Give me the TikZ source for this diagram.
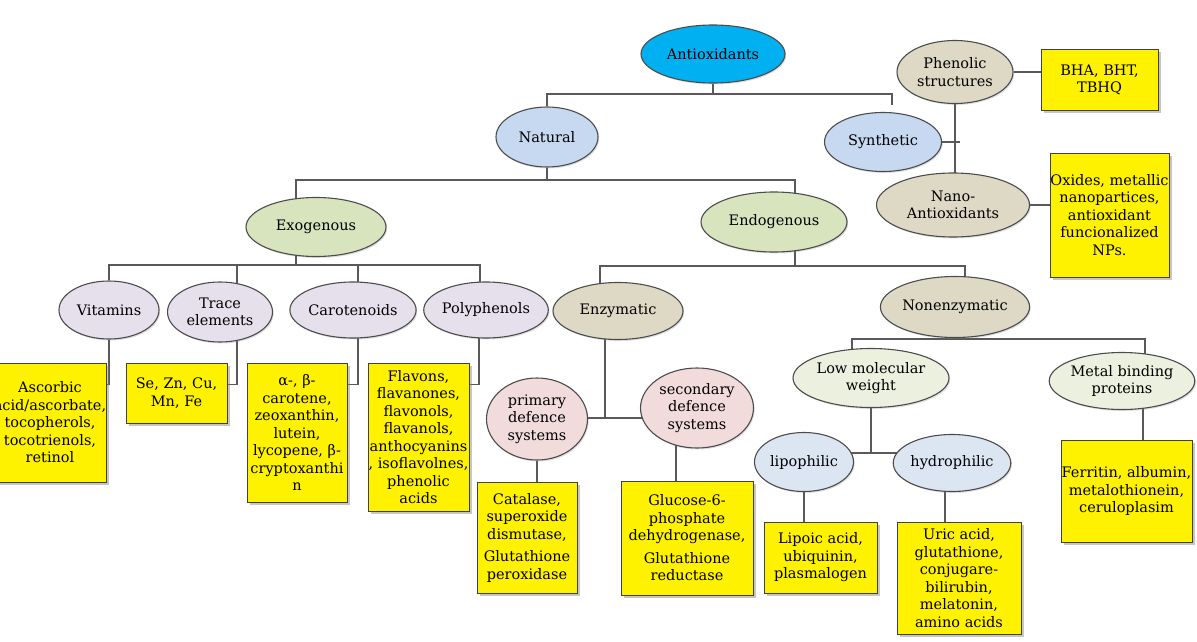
\documentclass[tikz,border=0pt]{standalone}
\usepackage{fontspec}
\setmainfont{DejaVu Serif}
\usepackage{xcolor}
\usepackage{tikz}
\usetikzlibrary{shapes.geometric,calc,backgrounds,shadows}

\definecolor{rootblue}{HTML}{00B0F0}
\definecolor{natblue}{HTML}{C6D9F1}
\definecolor{exogreen}{HTML}{D7E4BD}
\definecolor{sublilac}{HTML}{E5E0EC}
\definecolor{enztan}{HTML}{DDD9C4}
\definecolor{defpink}{HTML}{F2DCDB}
\definecolor{molgreen}{HTML}{EBF1DE}
\definecolor{philblue}{HTML}{DCE6F2}
\newcommand{\ovl}[1]{\makebox[80pt]{#1}}

\begin{document}
\begin{tikzpicture}[
  x=1pt, y=-1pt,
  sz/.style 2 args={minimum width=#1pt, minimum height=#2pt},
  oval/.style={ellipse, draw=black!70, line width=1.1pt, inner sep=0pt, align=center,
               font=\fontsize{14.5}{17.5}\selectfont,
               drop shadow={shadow xshift=1.2pt, shadow yshift=-1.5pt, opacity=0.25}},
  rootov/.style={oval, fill=rootblue},
  natov/.style={oval, fill=natblue},
  exoov/.style={oval, fill=exogreen},
  subov/.style={oval, fill=sublilac},
  enzov/.style={oval, fill=enztan},
  defov/.style={oval, fill=defpink},
  molov/.style={oval, fill=molgreen},
  philov/.style={oval, fill=philblue},
  lst/.style={draw=black!75, line width=1pt, fill=yellow, inner sep=2pt, align=center,
              font=\fontsize{14.5}{17.5}\selectfont,
              drop shadow={shadow xshift=2.5pt, shadow yshift=-2.5pt, opacity=0.45}},
  conn/.style={draw=black!65, line width=1.2pt}
]
  \useasboundingbox (0,0) rectangle (1197,642);

  % classes
  \node[rootov, sz={144}{58}] (anti) at (713,54) {Antioxidants};
  \node[natov, sz={102}{60}] (nat) at (547,137) {Natural};
  \node[natov, sz={117}{59}] (syn) at (883,142) {Synthetic};
  \node[exoov, sz={140}{59}] (exo) at (316,227) {Exogenous};
  \node[exoov, sz={146}{60}] (endo) at (774,222) {Endogenous};
  \node[subov, sz={100}{58}] (vit) at (109,310) {Vitamins};
  \node[subov, sz={105}{60}] (trace) at (220,312) {Trace\\elements};
  \node[subov, sz={123}{56}] (caro) at (353,310) {Carotenoids};
  \node[subov, sz={123}{56}] (polyph) at (486,310) {Polyphenols};
  \node[enzov, sz={130}{57}] (enz) at (618,311) {Enzymatic};
  \node[enzov, sz={146}{61}] (nonenz) at (955,307) {Nonenzymatic};
  \node[defov, sz={101}{82}] (prim) at (537,419) {primary\\defence\\systems};
  \node[defov, sz={113}{80}] (sec) at (697,408) {secondary\\defence\\systems};
  \node[molov, sz={156}{59}] (lmw) at (871,378) {Low molecular\\weight};
  \node[molov, sz={145}{57}] (metal) at (1122,381) {Metal binding\\proteins};
  \node[philov, sz={99}{59}] (lipo) at (804,462) {lipophilic};
  \node[philov, sz={116}{57}] (hydro) at (952,463) {hydrophilic};
  \node[enzov, sz={116}{63}] (phen) at (955,72) {Phenolic\\structures};
  \node[enzov, sz={153}{64}] (nano) at (953,205) {Nano-\\Antioxidants};

  % examples
  \node[lst, sz={112}{119}] (asc) at (50,422.5) {Ascorbic\\\ovl{acid/ascorbate,}\\tocopherols,\\tocotrienols,\\retinol};
  \node[lst, sz={101}{60}] (se) at (176.5,393) {Se, Zn, Cu,\\Mn, Fe};
  \node[lst, sz={100}{139}] (car) at (297,432.5) {α-, β-\\carotene,\\zeoxanthin,\\lutein,\\\ovl{lycopene, β-}\\\ovl{cryptoxanthi}\\n};
  \node[lst, sz={101}{148}] (pol) at (418.5,437) {Flavons,\\flavanones,\\flavonols,\\flavanols,\\\ovl{anthocyanins}\\\ovl{, isoflavolnes,}\\phenolic\\acids};
  \node[lst, sz={100}{111}] (cat) at (527,537.5) {Catalase,\\superoxide\\dismutase,\\[5pt]Glutathione\\peroxidase};
  \node[lst, sz={132}{114}] (glu) at (687,538) {Glucose-6-\\phosphate\\\ovl{dehydrogenase,}\\[5pt]Glutathione\\reductase};
  \node[lst, sz={113}{71}] (lip) at (820.5,557.5) {Lipoic acid,\\ubiquinin,\\plasmalogen};
  \node[lst, sz={124}{112}] (uric) at (959,578) {Uric acid,\\glutathione,\\conjugare-\\bilirubin,\\melatonin,\\amino acids};
  \node[lst, sz={131}{102}] (fer) at (1126.5,491) {\ovl{Ferritin, albumin,}\\metalothionein,\\ceruloplasim};
  \node[lst, sz={117}{60}] (bha) at (1099.5,80) {BHA, BHT,\\TBHQ};
  \node[lst, sz={119}{124}] (oxi) at (1109.5,215) {\ovl{Oxides, metallic}\\nanopartices,\\antioxidant\\funcionalized\\NPs.};

  \begin{scope}[on background layer]
    \coordinate (t1) at ($(anti)+(0,40)$);
    \draw[conn] (anti) -- (t1);
    \draw[conn] (nat) |- (t1) -| ($(syn)+(9,-37)$);
    \coordinate (n1) at ($(nat)+(0,43)$);
    \draw[conn] (nat) -- (n1);
    \draw[conn] ($(exo)+(-20,0)$) |- (n1) -| ($(endo)+(21,0)$);
    % exogenous
    \coordinate (x1) at ($(exo)+(-20,38)$);
    \draw[conn] ($(exo)+(-20,0)$) -- (x1);
    \draw[conn] (vit) |- (x1) -| ($(polyph)+(-6,0)$);
    \draw[conn] ($(trace)+(17,0)$) |- (x1) -| ($(caro)+(5,0)$);
    \draw[conn] (vit) |- ($(asc.north east)+(0,22)$);
    \draw[conn] ($(trace)+(17,0)$) |- ($(se.north east)+(0,22)$);
    \draw[conn] ($(caro)+(5,0)$) |- ($(car.north east)+(0,22)$);
    \draw[conn] ($(polyph)+(-7,0)$) |- ($(pol.north east)+(0,22)$);
    % endogenous
    \coordinate (d1) at ($(endo)+(21,44)$);
    \draw[conn] ($(endo)+(21,0)$) -- (d1);
    \draw[conn] ($(enz)+(-18,0)$) |- (d1) -| ($(nonenz)+(10,0)$);
    \coordinate (z1) at ($(enz)+(-13,107)$);
    \draw[conn] ($(enz)+(-13,0)$) -- (z1);
    \draw[conn] (prim.center |- z1) -- (sec.center |- z1);
    \draw[conn] (prim) -- (prim |- cat.north);
    \coordinate (s2) at ($(sec)+(-21,0)$);
    \draw[conn] (s2) -- (s2 |- glu.north);
    \coordinate (m1) at ($(nonenz)+(0,32)$);
    \draw[conn] (nonenz) -- (m1);
    \draw[conn] ($(lmw)+(-19,0)$) |- (m1) -| ($(metal)+(23,0)$);
    \coordinate (m2) at ($(metal)+(21,0)$);
    \draw[conn] (m2) -- (m2 |- fer.north);
    \coordinate (w1) at ($(lmw)+(0,75)$);
    \draw[conn] (lmw) -- (w1);
    \draw[conn] (lipo.center |- w1) -- (hydro.center |- w1);
    \draw[conn] (lipo) -- (lipo |- lip.north);
    \coordinate (h1) at ($(hydro)+(-7,0)$);
    \draw[conn] (h1) -- (h1 |- uric.north);
    % synthetic
    \draw[conn] (phen) -- (phen |- nano);
    \coordinate (y1) at (syn -| phen);
    \draw[conn] (syn) -- ($(y1)+(5,0)$);
    \draw[conn] (phen) -- (phen -| bha.west);
    \draw[conn] (nano) -- (nano -| oxi.west);
  \end{scope}
\end{tikzpicture}
\end{document}
